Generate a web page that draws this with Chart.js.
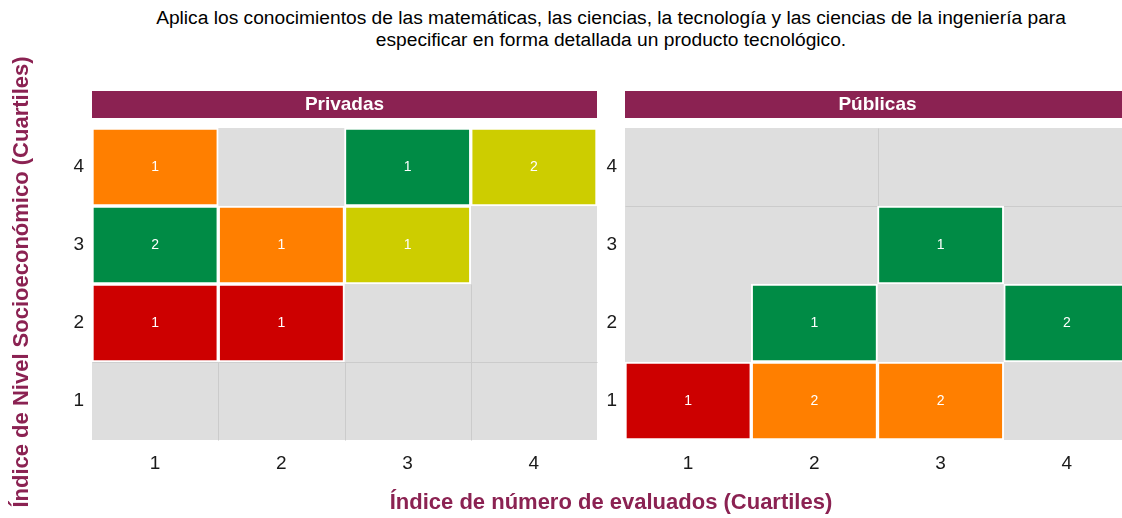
<!DOCTYPE html>
<html><head><meta charset="utf-8">
<script src="https://cdn.jsdelivr.net/npm/chart.js@4/dist/chart.umd.min.js"></script>
<style>
html,body{margin:0;padding:0;width:1122px;height:518px;overflow:hidden;background:#fff;font-family:"Liberation Sans",Arial,sans-serif;}
#title{position:absolute;left:0;width:1222px;top:7px;text-align:center;font-size:19.2px;line-height:22px;color:#000;}
#xtitle{position:absolute;left:92px;width:1038px;top:489px;text-align:center;font-size:22px;line-height:26px;font-weight:bold;color:#8B2252;}
#ytitle{position:absolute;left:21px;top:282px;width:600px;text-align:center;font-size:22px;line-height:26px;font-weight:bold;color:#8B2252;transform:translate(-50%,-50%) rotate(-90deg);white-space:nowrap;}
#c1wrap{position:absolute;left:0;top:0;width:600px;height:518px;}
#c2wrap{position:absolute;left:600px;top:0;width:530px;height:518px;}
</style></head>
<body>
<div id="title">Aplica los conocimientos de las matemáticas, las ciencias, la tecnología y las ciencias de la ingeniería para<br>especificar en forma detallada un producto tecnológico.</div>
<div id="c1wrap"><canvas id="c1"></canvas></div>
<div id="c2wrap"><canvas id="c2"></canvas></div>
<div id="xtitle">Índice de número de evaluados (Cuartiles)</div>
<div id="ytitle">Índice de Nivel Socioeconómico (Cuartiles)</div>
<script>
// ---- data ----
const xCategories = ['1', '2', '3', '4'];
const yLevels = [4, 3, 2, 1];
const panelNames = ['Privadas', 'Públicas'];

// counts per row (x = 1..4), null = empty cell
const privadasCounts4 = [1, null, 1, 2];
const privadasCounts3 = [2, 1, 1, null];
const privadasCounts2 = [1, 1, null, null];
const privadasCounts1 = [null, null, null, null];
const privadasClass4 = ['naranja', null, 'verde', 'amarillo'];
const privadasClass3 = ['verde', 'naranja', 'amarillo', null];
const privadasClass2 = ['rojo', 'rojo', null, null];
const privadasClass1 = [null, null, null, null];

const publicasCounts4 = [null, null, null, null];
const publicasCounts3 = [null, null, 1, null];
const publicasCounts2 = [null, 1, null, 2];
const publicasCounts1 = [1, 2, 2, null];
const publicasClass4 = [null, null, null, null];
const publicasClass3 = [null, null, 'verde', null];
const publicasClass2 = [null, 'verde', null, 'verde'];
const publicasClass1 = ['rojo', 'naranja', 'naranja', null];

// faint seams between empty tiles, in axis units: [x0, x1, y0, y1]
const privadasSeams = [[3.5, 3.5, 0.5, 2.5], [1.5, 1.5, 0.5, 1.5], [2.5, 2.5, 0.5, 1.5], [0.5, 4.5, 1.5, 1.5]];
const publicasSeams = [[2.5, 2.5, 3.5, 4.5], [0.5, 4.5, 3.5, 3.5]];

const palette = { rojo: '#CD0000', naranja: '#FF7F00', amarillo: '#CDCD00', verde: '#008B45' };

const FONT = '"Liberation Sans", Arial, sans-serif';
const STRIP = '#8B2252';
const PANEL_BG = '#DEDEDE';
const GRID = '#CBCBCB';
const NONE = 'rgba(0,0,0,0)';

function buildDatasets(countsRows, classRows) {
  return yLevels.map((lvl, i) => ({
    label: 'Nivel ' + lvl,
    data: countsRows[i].map(v => v === null ? null : [lvl - 0.5, lvl + 0.5]),
    counts: countsRows[i],
    backgroundColor: classRows[i].map(c => c ? palette[c] : NONE),
    borderColor: '#FFFFFF',
    borderWidth: 2,
    borderSkipped: false,
    grouped: false,
    categoryPercentage: 1,
    barPercentage: 1
  }));
}

function xPix(scale, v) {
  // category positions: value 1..4 -> index 0..3, halves are boundaries
  return scale.getPixelForDecimal((v - 0.5) / xCategories.length);
}

const panelPlugin = {
  id: 'panel',
  beforeDraw(chart, args, opts) {
    const a = chart.chartArea, ctx = chart.ctx;
    ctx.save();
    ctx.fillStyle = PANEL_BG;
    ctx.fillRect(a.left, a.top, a.right - a.left, a.bottom - a.top);
    ctx.fillStyle = STRIP;
    ctx.fillRect(a.left, 91, a.right - a.left, 27);
    ctx.fillStyle = '#FFFFFF';
    ctx.font = 'bold 19px ' + FONT;
    ctx.textAlign = 'center';
    ctx.textBaseline = 'middle';
    ctx.fillText(opts.name, (a.left + a.right) / 2, 105);
    ctx.restore();
  },
  beforeDatasetsDraw(chart, args, opts) {
    const ctx = chart.ctx, xs = chart.scales.x, ys = chart.scales.y;
    ctx.save();
    ctx.strokeStyle = GRID;
    ctx.lineWidth = 1;
    (opts.seams || []).forEach(s => {
      const x0 = Math.round(xPix(xs, s[0])) + 0.5, x1 = Math.round(xPix(xs, s[1])) + 0.5;
      const y0 = Math.round(ys.getPixelForValue(s[2])) + 0.5, y1 = Math.round(ys.getPixelForValue(s[3])) + 0.5;
      ctx.beginPath();
      ctx.moveTo(x0, y0);
      ctx.lineTo(x1, y1);
      ctx.stroke();
    });
    ctx.restore();
  },
  afterDatasetsDraw(chart) {
    const ctx = chart.ctx;
    ctx.save();
    ctx.fillStyle = '#FFFFFF';
    ctx.font = '14px ' + FONT;
    ctx.textAlign = 'center';
    ctx.textBaseline = 'middle';
    chart.data.datasets.forEach((ds, di) => {
      const meta = chart.getDatasetMeta(di);
      meta.data.forEach((el, i) => {
        const v = ds.counts[i];
        if (v === null || v === undefined) return;
        const p = el.getProps(['x', 'y', 'base'], true);
        ctx.fillText(String(v), p.x, (p.y + p.base) / 2);
      });
    });
    ctx.restore();
  }
};

function makeChart(id, name, datasets, seams, yWidth, padRight) {
  return new Chart(document.getElementById(id), {
    type: 'bar',
    data: { labels: xCategories, datasets },
    plugins: [panelPlugin],
    options: {
      responsive: true,
      maintainAspectRatio: false,
      animation: false,
      layout: { padding: { top: 128, right: padRight, left: 0, bottom: 0 } },
      plugins: { legend: { display: false }, tooltip: { enabled: false }, title: { display: false }, panel: { name, seams } },
      scales: {
        x: {
          type: 'category',
          offset: true,
          border: { display: false },
          grid: { display: true, drawTicks: false, drawOnChartArea: false, color: NONE },
          ticks: { color: '#1a1a1a', font: { family: FONT, size: 19 }, padding: 12 },
          afterFit: s => { s.height = 78; }
        },
        y: {
          type: 'linear',
          min: 0.5, max: 4.5,
          border: { display: false },
          grid: { display: true, drawTicks: false, drawOnChartArea: false, color: NONE },
          ticks: {
            stepSize: 0.5,
            autoSkip: false,
            color: '#1a1a1a',
            font: { family: FONT, size: 19 },
            padding: 8,
            callback: v => (v % 1 === 0 ? String(v) : '')
          },
          afterFit: s => { s.width = yWidth; }
        }
      }
    }
  });
}

makeChart('c1', panelNames[0],
  buildDatasets([privadasCounts4, privadasCounts3, privadasCounts2, privadasCounts1],
                [privadasClass4, privadasClass3, privadasClass2, privadasClass1]), privadasSeams, 92, 3);
makeChart('c2', panelNames[1],
  buildDatasets([publicasCounts4, publicasCounts3, publicasCounts2, publicasCounts1],
                [publicasClass4, publicasClass3, publicasClass2, publicasClass1]), publicasSeams, 25, 0);
</script>
</body></html>
